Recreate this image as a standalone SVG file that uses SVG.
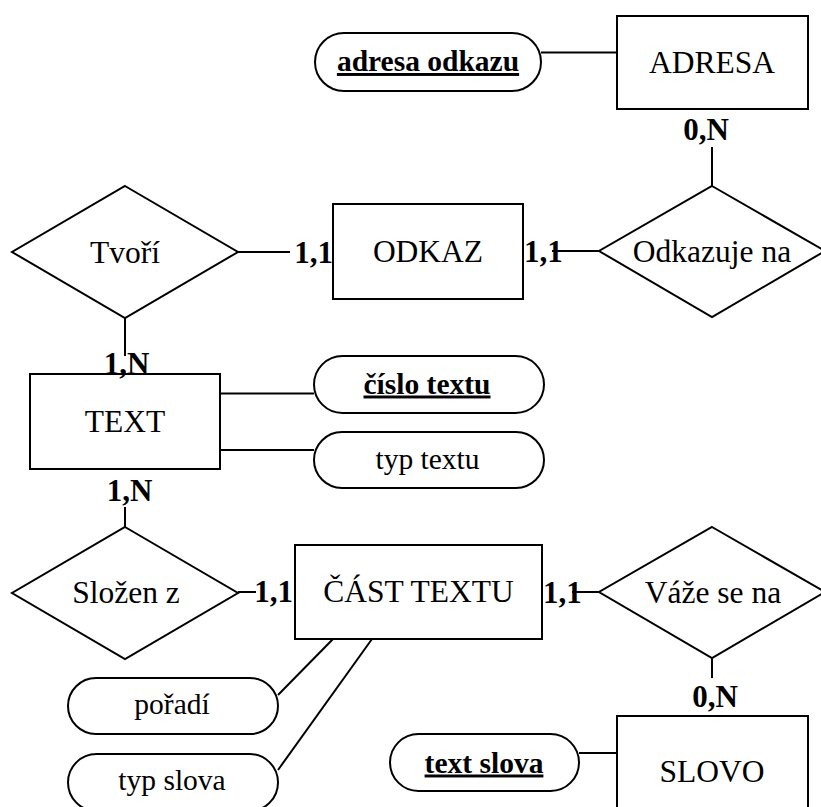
<svg xmlns="http://www.w3.org/2000/svg" width="821" height="807" viewBox="0 0 821 807">
  <style>
    .shape { fill: #ffffff; stroke: #000000; stroke-width: 2; }
    .link { stroke: #000000; stroke-width: 2; fill: none; }
    .name { font-family: "Liberation Serif", "Times New Roman", serif; font-size: 31.5px; text-anchor: middle; fill: #000000; }
    .attr { font-family: "Liberation Serif", "Times New Roman", serif; font-size: 29.5px; text-anchor: middle; fill: #000000; }
    .key { font-weight: bold; text-decoration: underline; text-decoration-thickness: 2.3px; text-underline-offset: 4px; }
    .card { font-family: "Liberation Serif", "Times New Roman", serif; font-size: 31px; font-weight: bold; fill: #000000; }
  </style>
  <rect width="821" height="807" fill="#ffffff"/>

  <!-- connectors -->
  <g id="connectors">
    <line class="link" x1="541" y1="52.5" x2="617" y2="52.5"/>
    <line class="link" x1="712" y1="147" x2="712" y2="186"/>
    <line class="link" x1="238" y1="252" x2="290" y2="252"/>
    <line class="link" x1="552" y1="251" x2="599" y2="251"/>
    <line class="link" x1="125" y1="318" x2="125" y2="356"/>
    <line class="link" x1="220" y1="393.5" x2="314" y2="393.5"/>
    <line class="link" x1="220" y1="450" x2="314" y2="450"/>
    <line class="link" x1="125" y1="507" x2="125" y2="527"/>
    <line class="link" x1="238" y1="592" x2="256" y2="592"/>
    <line class="link" x1="572" y1="592" x2="599" y2="592"/>
    <line class="link" x1="712" y1="658" x2="712" y2="678"/>
    <line class="link" x1="333" y1="639" x2="278" y2="695"/>
    <line class="link" x1="372" y1="639" x2="278" y2="770"/>
    <line class="link" x1="579" y1="753" x2="617" y2="753"/>
  </g>

  <!-- entities -->
  <g id="adresa">
    <rect class="shape" x="617" y="16" width="191" height="93"/>
    <text class="name" x="712" y="72.5">ADRESA</text>
  </g>
  <g id="odkaz">
    <rect class="shape" x="333" y="204" width="190" height="95"/>
    <text class="name" x="428" y="261.5">ODKAZ</text>
  </g>
  <g id="text">
    <rect class="shape" x="30" y="374" width="190" height="95"/>
    <text class="name" x="125" y="431.5">TEXT</text>
  </g>
  <g id="cast-textu">
    <rect class="shape" x="295" y="545" width="247" height="94"/>
    <text class="name" x="418.5" y="601.5">ČÁST TEXTU</text>
  </g>
  <g id="slovo">
    <rect class="shape" x="617" y="716" width="191" height="100"/>
    <text class="name" x="712" y="781.5">SLOVO</text>
  </g>

  <!-- relationships -->
  <g id="tvori">
    <polygon class="shape" points="125,186 238,252 125,318 12,252"/>
    <text class="name" x="125" y="262.5">Tvoří</text>
  </g>
  <g id="odkazuje-na">
    <polygon class="shape" points="712,186 825,251 712,317 599,251"/>
    <text class="name" x="712" y="261.5">Odkazuje na</text>
  </g>
  <g id="slozen-z">
    <polygon class="shape" points="125,527 238,593 125,659 12,593"/>
    <text class="name" x="126" y="602.5">Složen z</text>
  </g>
  <g id="vaze-se-na">
    <polygon class="shape" points="712,527 825,592 712,658 599,592"/>
    <text class="name" x="713" y="603">Váže se na</text>
  </g>

  <!-- attributes -->
  <g id="adresa-odkazu">
    <rect class="shape" x="315" y="33" width="226" height="58" rx="29"/>
    <text class="attr key" x="428" y="71">adresa odkazu</text>
  </g>
  <g id="cislo-textu">
    <rect class="shape" x="314" y="356" width="230" height="57" rx="28.5"/>
    <text class="attr key" x="427" y="393.5">číslo textu</text>
  </g>
  <g id="typ-textu">
    <rect class="shape" x="314" y="432" width="230" height="56" rx="28"/>
    <text class="attr" x="427.5" y="468.5">typ textu</text>
  </g>
  <g id="poradi">
    <rect class="shape" x="68" y="678" width="210" height="56" rx="28"/>
    <text class="attr" x="172" y="713.5">pořadí</text>
  </g>
  <g id="typ-slova">
    <rect class="shape" x="68" y="754" width="210" height="57" rx="28.5"/>
    <text class="attr" x="172" y="790">typ slova</text>
  </g>
  <g id="text-slova">
    <rect class="shape" x="390" y="734" width="189" height="57" rx="28.5"/>
    <text class="attr key" x="484" y="772.5">text slova</text>
  </g>

  <!-- cardinalities -->
  <g id="cardinalities">
    <text class="card" x="706" y="140" text-anchor="middle">0,N</text>
    <text class="card" x="333" y="262.5" text-anchor="end">1,1</text>
    <text class="card" x="524" y="261.5">1,1</text>
    <text class="card" x="126.5" y="373.5" text-anchor="middle">1,N</text>
    <text class="card" x="129.5" y="501" text-anchor="middle">1,N</text>
    <text class="card" x="293" y="602" text-anchor="end">1,1</text>
    <text class="card" x="543" y="603">1,1</text>
    <text class="card" x="715" y="706.5" text-anchor="middle">0,N</text>
  </g>
</svg>
